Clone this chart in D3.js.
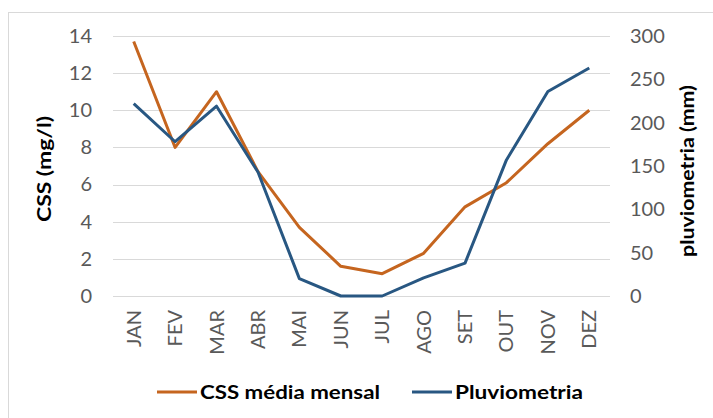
<!DOCTYPE html>
<html>
<head>
<meta charset="utf-8">
<script src="https://cdn.jsdelivr.net/npm/d3@7"></script>
<style>
  body { margin: 0; background: #fff; }
  text { font-family: Lato, "Open Sans", sans-serif; }
</style>
</head>
<body>
<div id="chart"></div>
<script>
const meses = ["JAN", "FEV", "MAR", "ABR", "MAI", "JUN", "JUL", "AGO", "SET", "OUT", "NOV", "DEZ"];
const css = [13.7, 8.0, 11.0, 6.7, 3.7, 1.6, 1.2, 2.3, 4.8, 6.1, 8.2, 10.0];
const pluvio = [222, 178, 219, 143, 20, 0, 0, 21, 38, 157, 236, 263];
const cssTicks = [0, 2, 4, 6, 8, 10, 12, 14];
const pluvioTicks = [0, 50, 100, 150, 200, 250, 300];

const width = 713, height = 418;
const margin = {top: 36, right: 103, bottom: 122, left: 113};

const orange = "#c5651f", blue = "#285782";

const svg = d3.select("#chart")
    .append("svg")
    .attr("width", width)
    .attr("height", height);

// outer frame
svg.append("rect")
    .attr("x", 8.5).attr("y", 12.5)
    .attr("width", width).attr("height", height)
    .attr("fill", "none")
    .attr("stroke", "#d9d9d9");

let x = d3.scaleBand()
    .domain(meses)
    .range([margin.left, width - margin.right]);

let yLeft = d3.scaleLinear()
    .domain([0, 14])
    .range([height - margin.bottom, margin.top]);

let yRight = d3.scaleLinear()
    .domain([0, 300])
    .range([height - margin.bottom, margin.top]);

// grid
svg.append("g")
    .selectAll("line")
    .data(cssTicks)
    .enter().append("line")
    .attr("x1", margin.left)
    .attr("x2", width - margin.right)
    .attr("y1", d => Math.round(yLeft(d)) + 0.5)
    .attr("y2", d => Math.round(yLeft(d)) + 0.5)
    .attr("stroke", "#d9d9d9");

let axisLeft = d3.axisLeft(yLeft).tickValues(cssTicks).tickSize(0).tickPadding(21);
svg.append("g")
    .attr("transform", "translate(" + margin.left + ",0)")
    .call(axisLeft)
    .call(g => g.select(".domain").remove())
    .selectAll("text")
    .attr("font-size", 20)
    .attr("font-family", "Lato")
    .attr("fill", "#595959");

let axisRight = d3.axisRight(yRight).tickValues(pluvioTicks).tickSize(0).tickPadding(20);
svg.append("g")
    .attr("transform", "translate(" + (width - margin.right) + ",0)")
    .call(axisRight)
    .call(g => g.select(".domain").remove())
    .selectAll("text")
    .attr("font-size", 20)
    .attr("font-family", "Lato")
    .attr("fill", "#595959");

let axisBottom = d3.axisBottom(x).tickSize(0).tickPadding(0);
svg.append("g")
    .attr("transform", "translate(0," + (height - margin.bottom) + ")")
    .call(axisBottom)
    .call(g => g.select(".domain").remove())
    .selectAll("text")
    .attr("font-size", 20)
    .attr("font-family", "Lato")
    .attr("fill", "#595959")
    .attr("text-anchor", "end")
    .attr("dy", "0.35em")
    .attr("transform", "translate(0,14) rotate(-90)");

// axis titles
svg.append("text")
    .attr("transform", "translate(51,169) rotate(-90)")
    .attr("text-anchor", "middle")
    .attr("font-size", 19)
    .attr("font-weight", "bold")
    .attr("fill", "#000")
    .attr("textLength", 106)
    .attr("lengthAdjust", "spacingAndGlyphs")
    .text("CSS (mg/l)");

svg.append("text")
    .attr("transform", "translate(694,171) rotate(-90)")
    .attr("text-anchor", "middle")
    .attr("font-size", 19)
    .attr("font-weight", "bold")
    .attr("fill", "#000")
    .attr("textLength", 172)
    .attr("lengthAdjust", "spacingAndGlyphs")
    .text("pluviometria (mm)");

// lines
let cx = d => x(d) + x.bandwidth() / 2;

let lineCss = d3.line()
    .x((d, i) => cx(meses[i]))
    .y(d => yLeft(d));

let linePluvio = d3.line()
    .x((d, i) => cx(meses[i]))
    .y(d => yRight(d));

svg.append("path")
    .datum(css)
    .attr("d", lineCss)
    .attr("fill", "none")
    .attr("stroke", orange)
    .attr("stroke-width", 3)
    .attr("stroke-linejoin", "round");

svg.append("path")
    .datum(pluvio)
    .attr("d", linePluvio)
    .attr("fill", "none")
    .attr("stroke", blue)
    .attr("stroke-width", 3)
    .attr("stroke-linejoin", "round");

// legend
const legend = [
    {name: "CSS média mensal", color: orange, x: 157, len: 180},
    {name: "Pluviometria", color: blue, x: 412, len: 128}
];

let lg = svg.selectAll(".legend")
    .data(legend)
    .enter().append("g")
    .attr("class", "legend")
    .attr("transform", d => "translate(" + d.x + ",392)");

lg.append("line")
    .attr("x1", 0).attr("x2", 40)
    .attr("stroke", d => d.color)
    .attr("stroke-width", 3);

lg.append("text")
    .attr("x", 43)
    .attr("dy", "0.35em")
    .attr("font-size", 19)
    .attr("font-weight", "bold")
    .attr("fill", "#000")
    .attr("textLength", d => d.len)
    .attr("lengthAdjust", "spacingAndGlyphs")
    .text(d => d.name);
</script>
</body>
</html>
